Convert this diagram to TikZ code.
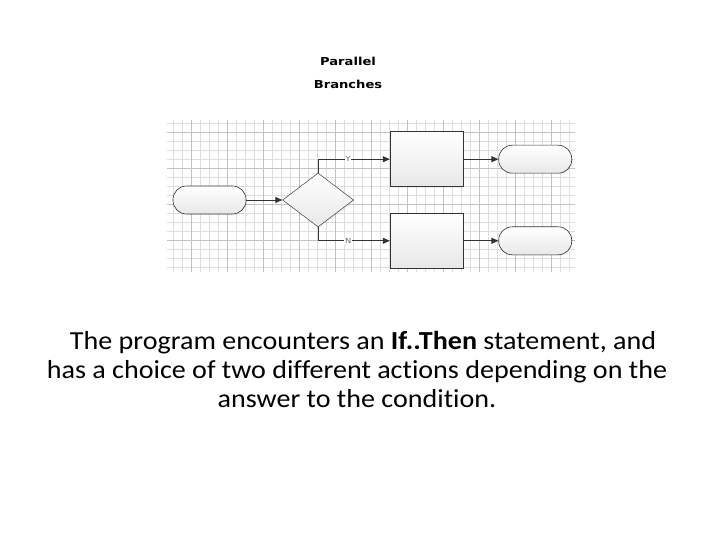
\documentclass[tikz,border=0pt]{standalone}
\usepackage{fontspec}
\setmainfont{Carlito}[RawFeature=-liga]
\newfontfamily\captionfont{Carlito}[FakeStretch=1.08, RawFeature=-liga]
\newfontfamily\titlefont{DejaVu Sans}[FakeStretch=1.19]
\usetikzlibrary{positioning,shapes.geometric,arrows.meta,shadows}

\tikzset{
  flowbox/.style={rectangle, draw=black!80, line width=0.6pt, top color=white, bottom color=black!9,
    minimum width=73pt, minimum height=55pt, drop shadow={opacity=0.12, shadow xshift=1pt, shadow yshift=-1pt}},
  termbox/.style={rectangle, rounded corners=13.5pt, draw=black!80, line width=0.6pt, top color=white, bottom color=black!9,
    minimum width=73pt, minimum height=28pt, drop shadow={opacity=0.12, shadow xshift=1pt, shadow yshift=-1pt}},
  decbox/.style={diamond, aspect=1.32, draw=black!75, line width=0.5pt, top color=white, bottom color=black!9,
    minimum width=71pt, minimum height=54pt, inner sep=0pt, drop shadow={opacity=0.12, shadow xshift=1pt, shadow yshift=-1pt}},
  flow/.style={draw=black!80, line width=0.8pt, -{Triangle[length=7pt, width=6pt]}},
  branch/.style={font=\titlefont\fontsize{7}{7}\selectfont, text=black!60, fill=white, inner sep=0.6pt}
}

\begin{document}
\begin{tikzpicture}[x=1pt, y=-1pt]
        \useasboundingbox (0, 0) rectangle (720, 540);

        % grid paper
        \foreach \gx in {173, 182, ..., 569} {
          \draw[black!13, line width=0.5pt] (\gx, 120) -- (\gx, 272);
        }
        \foreach \gy in {123, 132, ..., 267} {
          \draw[black!13, line width=0.5pt] (167, \gy) -- (575, \gy);
        }
        \foreach \gx in {191, 227, ..., 551} {
          \draw[black!24, line width=0.5pt] (\gx, 120) -- (\gx, 272);
        }
        \foreach \gy in {132, 168, ..., 240} {
          \draw[black!24, line width=0.5pt] (167, \gy) -- (575, \gy);
        }

        \node[align=center, font=\titlefont\bfseries\fontsize{11}{23}\selectfont] (title) at (348, 72.5) {Parallel\\Branches};

        \node[termbox] (start) at (209.5, 200) {};
        \node[decbox] (dec) [right = 36pt of start] {};
        \node[flowbox] (yesbox) [above right = 13pt and 36pt of dec.east] {};
        \node[flowbox] (nobox) [below right = 13pt and 36pt of dec.east] {};
        \node[termbox] (yesend) [right = 35pt of yesbox] {};
        \node[termbox] (noend) [right = 35pt of nobox] {};

        \draw[flow] (start) -- (dec);
        \draw[flow] (dec.north) |- (yesbox.west) node[branch, pos=0.71] {Y};
        \draw[flow] (dec.south) |- (nobox.west) node[branch, pos=0.71] {N};
        \draw[flow] (yesbox) -- (yesend);
        \draw[flow] (nobox) -- (noend);

        \node[align=center, font=\captionfont\fontsize{26}{29}\selectfont] (caption) at (357, 369)
          {\hspace*{12pt}The program encounters an \textbf{If..Then} statement, and\\has a choice of two different actions depending on the\\answer to the condition.};
      \end{tikzpicture}
\end{document}
